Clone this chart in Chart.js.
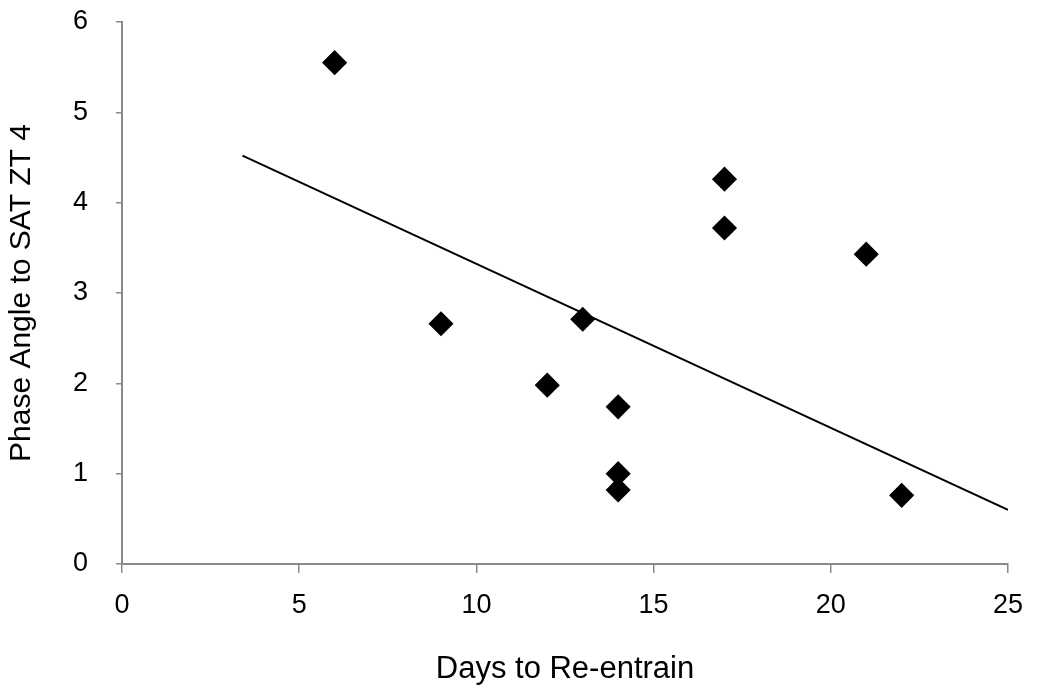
<!DOCTYPE html>
<html>
<head>
<meta charset="utf-8">
<script src="https://cdn.jsdelivr.net/npm/chart.js@4/dist/chart.umd.min.js"></script>
<style>
    html, body { margin: 0; padding: 0; background: #fff; }
    #wrap { width: 1050px; height: 692px; }
</style>
</head>
<body>
<div id="wrap"><canvas id="phaseChart"></canvas></div>
<script>
// Days to re-entrain vs phase angle
const daysToReentrain = [6, 9, 12, 13, 14, 14, 14, 17, 17, 21, 22];
const phaseAngle = [5.55, 2.66, 1.98, 2.71, 1.74, 1.0, 0.82, 4.26, 3.72, 3.43, 0.76];

// Trend line end points
const trendDays = [3.4, 25];
const trendPhase = [4.52, 0.6];

const xTicks = [0, 5, 10, 15, 20, 25];
const yTicks = [0, 1, 2, 3, 4, 5, 6];

const axisGrey = '#8a8a8a';
const fontFamily = '"Liberation Sans", Arial, sans-serif';

const points = daysToReentrain.map((d, i) => ({ x: d, y: phaseAngle[i] }));
const trend = trendDays.map((d, i) => ({ x: d, y: trendPhase[i] }));

const ctx = document.getElementById('phaseChart').getContext('2d');

new Chart(ctx, {
    type: 'scatter',
    data: {
        datasets: [
            {
                label: 'Phase angle',
                data: points,
                pointStyle: 'rectRot',
                pointRadius: 11.5,
                pointBorderWidth: 1.5,
                backgroundColor: '#000',
                borderColor: '#000',
                order: 1
            },
            {
                type: 'line',
                label: 'Trend',
                data: trend,
                borderColor: '#000',
                borderWidth: 2,
                pointRadius: 0,
                fill: false,
                order: 2
            }
        ]
    },
    options: {
        responsive: true,
        maintainAspectRatio: false,
        animation: false,
        layout: {
            padding: { top: 22, right: 42, bottom: 4, left: 4 }
        },
        plugins: {
            legend: { display: false },
            tooltip: { enabled: false }
        },
        scales: {
            x: {
                type: 'linear',
                min: 0,
                max: 25,
                afterBuildTicks: scale => { scale.ticks = xTicks.map(v => ({ value: v })); },
                afterFit: scale => { scale.height = 124; },
                ticks: {
                    color: '#000',
                    padding: 16,
                    maxRotation: 0,
                    font: { family: fontFamily, size: 27 }
                },
                grid: {
                    drawOnChartArea: false,
                    drawTicks: true,
                    tickLength: 9,
                    color: axisGrey,
                    lineWidth: 1.5
                },
                border: { display: true, color: axisGrey, width: 2 },
                title: {
                    display: true,
                    text: 'Days to Re-entrain',
                    color: '#000',
                    padding: { top: 20, bottom: 0 },
                    font: { family: fontFamily, size: 31 }
                }
            },
            y: {
                type: 'linear',
                min: 0,
                max: 6,
                afterBuildTicks: scale => { scale.ticks = yTicks.map(v => ({ value: v })); },
                afterFit: scale => {
                    scale.width = 118;
                    scale.paddingTop = 0; // top label overhang is covered by layout padding
                },
                ticks: {
                    color: '#000',
                    padding: 28,
                    font: { family: fontFamily, size: 27 }
                },
                grid: {
                    drawOnChartArea: false,
                    drawTicks: true,
                    tickLength: 6,
                    color: axisGrey,
                    lineWidth: 1.5
                },
                border: { display: true, color: axisGrey, width: 2 },
                title: {
                    display: true,
                    text: 'Phase Angle to SAT ZT 4',
                    color: '#000',
                    padding: { top: 0, bottom: 20 },
                    font: { family: fontFamily, size: 30 }
                }
            }
        }
    }
});
</script>
</body>
</html>
